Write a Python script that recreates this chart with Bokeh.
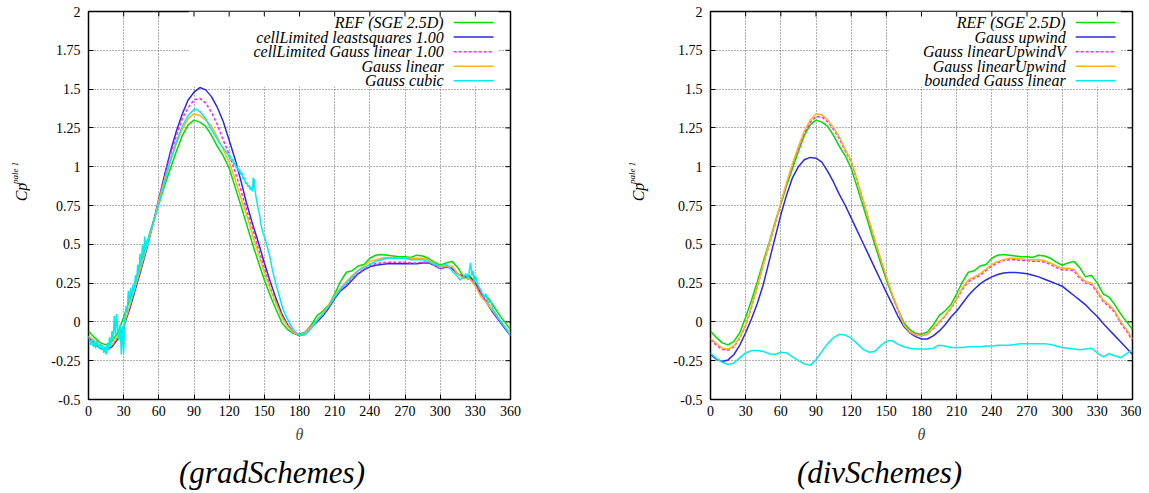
import math
from bokeh.plotting import figure
from bokeh.layouts import row, column
from bokeh.models import Label, BoxAnnotation, FixedTicker, Range1d
from bokeh.embed import file_html
from bokeh.resources import INLINE

# ---------------- data ----------------
THETA = list(range(0, 365, 5))
X_TICKS = [0, 30, 60, 90, 120, 150, 180, 210, 240, 270, 300, 330, 360]
Y_TICKS = [-0.5, -0.25, 0, 0.25, 0.5, 0.75, 1, 1.25, 1.5, 1.75, 2]
Y_TICK_LABELS = ["-0.5", "-0.25", "0", "0.25", "0.5", "0.75", "1", "1.25", "1.5", "1.75", "2"]

REF_SGE = [-0.06, -0.10, -0.135, -0.148, -0.125, -0.07, 0.03, 0.14, 0.26, 0.39,
           0.51, 0.64, 0.76, 0.88, 0.99, 1.10, 1.20, 1.27, 1.30, 1.287,
           1.26, 1.20, 1.13, 1.07, 0.99, 0.87, 0.75, 0.625, 0.50, 0.385,
           0.27, 0.17, 0.08, -0.005, -0.05, -0.075, -0.08, -0.065, -0.02, 0.04,
           0.07, 0.11, 0.18, 0.26, 0.32, 0.33, 0.36, 0.37, 0.41, 0.43,
           0.435, 0.43, 0.425, 0.42, 0.42, 0.415, 0.43, 0.425, 0.41, 0.385,
           0.365, 0.38, 0.39, 0.35, 0.29, 0.30, 0.25, 0.18, 0.16, 0.11,
           0.05, 0.00, -0.05]

# gradSchemes panel
CL_LEASTSQUARES = [-0.10, -0.14, -0.17, -0.18, -0.16, -0.11, -0.03, 0.08, 0.21, 0.34,
                   0.48, 0.63, 0.79, 0.95, 1.10, 1.23, 1.34, 1.43, 1.48, 1.51,
                   1.495, 1.45, 1.38, 1.29, 1.17, 1.05, 0.91, 0.76, 0.63, 0.51,
                   0.38, 0.26, 0.15, 0.05, -0.02, -0.07, -0.09, -0.075, -0.035, 0.00,
                   0.04, 0.09, 0.15, 0.20, 0.23, 0.27, 0.31, 0.335, 0.355, 0.365,
                   0.37, 0.375, 0.375, 0.375, 0.375, 0.375, 0.375, 0.38, 0.38, 0.365,
                   0.345, 0.355, 0.345, 0.31, 0.29, 0.29, 0.25, 0.18, 0.12, 0.06,
                   0.01, -0.04, -0.09]

CL_GAUSS_LINEAR = [-0.095, -0.13, -0.16, -0.175, -0.155, -0.10, -0.025, 0.09, 0.22, 0.35,
                   0.49, 0.63, 0.79, 0.94, 1.08, 1.20, 1.31, 1.38, 1.43, 1.44,
                   1.41, 1.35, 1.27, 1.17, 1.08, 0.97, 0.85, 0.72, 0.60, 0.47,
                   0.35, 0.22, 0.13, 0.04, -0.02, -0.065, -0.085, -0.07, -0.03, 0.01,
                   0.05, 0.10, 0.16, 0.21, 0.24, 0.28, 0.315, 0.34, 0.36, 0.375,
                   0.38, 0.385, 0.385, 0.385, 0.385, 0.38, 0.38, 0.385, 0.385, 0.365,
                   0.34, 0.35, 0.35, 0.31, 0.29, 0.29, 0.24, 0.18, 0.13, 0.07,
                   0.02, -0.03, -0.08]

GAUSS_LINEAR = [-0.09, -0.12, -0.155, -0.17, -0.15, -0.09, -0.02, 0.10, 0.23, 0.36,
                0.49, 0.63, 0.78, 0.92, 1.04, 1.15, 1.24, 1.31, 1.34, 1.33,
                1.30, 1.26, 1.19, 1.11, 1.03, 0.92, 0.80, 0.69, 0.56, 0.44,
                0.32, 0.21, 0.12, 0.03, -0.03, -0.07, -0.085, -0.07, -0.03, 0.01,
                0.06, 0.11, 0.17, 0.22, 0.26, 0.30, 0.33, 0.36, 0.39, 0.40,
                0.41, 0.415, 0.415, 0.41, 0.41, 0.41, 0.41, 0.41, 0.40, 0.375,
                0.35, 0.36, 0.36, 0.31, 0.28, 0.28, 0.23, 0.16, 0.12, 0.07,
                0.02, -0.03, -0.07]

CUBIC_THETA = [0, 1, 2, 3, 4, 5, 6, 7, 8, 9, 10, 11, 12, 13, 14, 15, 16, 17, 18, 19,
               20, 21, 22, 23, 24, 25, 26, 27, 28, 29, 30, 31, 32, 33, 34, 35, 36, 37, 38, 39,
               40, 41, 42, 43, 44, 45, 46, 47, 48, 49, 50, 51, 52, 54, 57, 60, 65, 70, 75, 80,
               85, 90, 92, 95, 100, 104, 108, 112, 116, 119, 120, 121, 122, 123, 124, 125, 126, 127, 128, 129,
               130, 131, 132, 133, 134, 135, 136, 137, 138, 139, 140, 140.5, 141, 141.5, 142, 143, 144, 145, 146, 147,
               148, 149, 150, 152, 155, 157, 160, 163, 166, 169, 171, 174, 177, 180, 184, 188, 192, 196, 200, 205,
               210, 215, 220, 225, 230, 235, 240, 245, 250, 255, 260, 265, 270, 275, 280, 285, 290, 295, 300, 305,
               308, 311, 314, 317, 320, 322, 324, 325, 326, 327, 328, 329, 330, 332, 335, 337, 339, 341, 343, 345,
               347, 350, 355, 360]
GAUSS_CUBIC = [-0.09, -0.12, -0.15, -0.11, -0.16, -0.13, -0.17, -0.12, -0.15, -0.17, -0.14, -0.18, -0.15, -0.20, -0.16, -0.21, -0.14, -0.18, -0.10, -0.16,
               -0.06, -0.12, 0.04, -0.08, 0.05, -0.05, -0.12, -0.02, -0.21, -0.03, -0.20, 0.02, 0.10, 0.06, 0.20, 0.12, 0.22, 0.16, 0.24, 0.20,
               0.30, 0.26, 0.37, 0.31, 0.44, 0.36, 0.50, 0.41, 0.55, 0.46, 0.53, 0.50, 0.57, 0.61, 0.68, 0.76, 0.90, 1.04, 1.16, 1.26,
               1.33, 1.37, 1.37, 1.355, 1.31, 1.25, 1.20, 1.15, 1.11, 1.08, 1.06, 1.07, 1.04, 1.05, 1.01, 1.03, 0.99, 1.00, 0.97, 0.98,
               0.95, 0.96, 0.92, 0.93, 0.89, 0.90, 0.87, 0.88, 0.85, 0.87, 0.84, 0.93, 0.86, 0.92, 0.85, 0.80, 0.76, 0.72, 0.69, 0.63,
               0.60, 0.57, 0.55, 0.50, 0.41, 0.33, 0.24, 0.16, 0.08, 0.03, 0.00, -0.04, -0.07, -0.085, -0.085, -0.06, -0.02, 0.02, 0.05, 0.10,
               0.16, 0.21, 0.25, 0.29, 0.33, 0.35, 0.37, 0.39, 0.40, 0.41, 0.41, 0.41, 0.41, 0.40, 0.40, 0.40, 0.39, 0.37, 0.36, 0.37,
               0.35, 0.32, 0.30, 0.27, 0.29, 0.31, 0.27, 0.34, 0.38, 0.30, 0.33, 0.25, 0.30, 0.24, 0.20, 0.16, 0.18, 0.12, 0.14, 0.08,
               0.06, 0.02, -0.03, -0.09]

# divSchemes panel
GAUSS_UPWIND = [-0.21, -0.24, -0.255, -0.245, -0.21, -0.15, -0.07, 0.02, 0.12, 0.24,
                0.39, 0.54, 0.69, 0.82, 0.93, 1.00, 1.045, 1.06, 1.055, 1.03,
                0.97, 0.90, 0.82, 0.75, 0.67, 0.59, 0.51, 0.43, 0.35, 0.27,
                0.19, 0.115, 0.035, -0.03, -0.07, -0.095, -0.11, -0.11, -0.09, -0.06,
                -0.02, 0.03, 0.07, 0.12, 0.17, 0.21, 0.245, 0.27, 0.29, 0.305,
                0.315, 0.318, 0.318, 0.315, 0.31, 0.30, 0.29, 0.275, 0.26, 0.245,
                0.23, 0.20, 0.17, 0.14, 0.11, 0.07, 0.035, -0.01, -0.05, -0.09,
                -0.13, -0.17, -0.21]

GAUSS_LINEAR_UPWIND_V = [-0.115, -0.15, -0.178, -0.182, -0.16, -0.105, -0.025, 0.095, 0.225, 0.365,
                         0.495, 0.625, 0.765, 0.89, 1.01, 1.12, 1.215, 1.285, 1.322, 1.32,
                         1.29, 1.24, 1.18, 1.10, 1.03, 0.91, 0.785, 0.655, 0.53, 0.405,
                         0.285, 0.175, 0.075, -0.02, -0.065, -0.085, -0.09, -0.08, -0.045, -0.005,
                         0.035, 0.085, 0.145, 0.21, 0.26, 0.28, 0.30, 0.33, 0.36, 0.38,
                         0.395, 0.40, 0.40, 0.395, 0.395, 0.39, 0.39, 0.385, 0.37, 0.35,
                         0.335, 0.335, 0.33, 0.28, 0.25, 0.24, 0.19, 0.13, 0.10, 0.06,
                         -0.01, -0.06, -0.12]

GAUSS_LINEAR_UPWIND = [-0.105, -0.14, -0.17, -0.175, -0.155, -0.10, -0.02, 0.10, 0.23, 0.37,
                       0.50, 0.63, 0.77, 0.90, 1.02, 1.13, 1.23, 1.30, 1.34, 1.335,
                       1.30, 1.25, 1.19, 1.11, 1.04, 0.92, 0.79, 0.66, 0.535, 0.41,
                       0.29, 0.18, 0.08, -0.02, -0.065, -0.085, -0.09, -0.08, -0.04, 0.00,
                       0.04, 0.09, 0.15, 0.22, 0.27, 0.29, 0.31, 0.34, 0.37, 0.39,
                       0.40, 0.41, 0.41, 0.405, 0.40, 0.40, 0.40, 0.395, 0.38, 0.36,
                       0.345, 0.345, 0.34, 0.29, 0.26, 0.25, 0.20, 0.14, 0.11, 0.07,
                       0.00, -0.05, -0.11]

BOUNDED_GAUSS_LINEAR = [-0.20, -0.235, -0.26, -0.275, -0.265, -0.23, -0.20, -0.185, -0.185, -0.19,
                        -0.205, -0.21, -0.195, -0.20, -0.225, -0.25, -0.27, -0.28, -0.245, -0.19,
                        -0.14, -0.10, -0.08, -0.085, -0.105, -0.14, -0.175, -0.195, -0.19, -0.155,
                        -0.125, -0.12, -0.145, -0.16, -0.17, -0.175, -0.175, -0.175, -0.17, -0.15,
                        -0.155, -0.165, -0.165, -0.165, -0.16, -0.16, -0.16, -0.155, -0.155, -0.15,
                        -0.15, -0.15, -0.145, -0.14, -0.14, -0.14, -0.14, -0.14, -0.145, -0.155,
                        -0.165, -0.17, -0.175, -0.18, -0.175, -0.17, -0.20, -0.225, -0.205, -0.22,
                        -0.23, -0.205, -0.18]

GRAD_NAMES = ["REF (SGE 2.5D)", "cellLimited leastsquares 1.00",
              "cellLimited Gauss linear 1.00", "Gauss linear", "Gauss cubic"]
DIV_NAMES = ["REF (SGE 2.5D)", "Gauss upwind", "Gauss linearUpwindV",
             "Gauss linearUpwind", "bounded Gauss linear"]
CAPTIONS = ["(gradSchemes)", "(divSchemes)"]
Y_LABEL = "Cp"
Y_LABEL_SUP = "pale 1"
X_LABEL = "θ"

# ---------------- styles / layout ----------------
GREEN, BLUE, MAGENTA, ORANGE, CYAN = "#00dd00", "#2a2ae6", "#ff22ff", "#ffb414", "#00eded"
STYLES = [(GREEN, "solid"), (BLUE, "solid"), (MAGENTA, "3 2"), (ORANGE, "solid"), (CYAN, "solid")]
SERIF = "Liberation Serif"
FRAME_W, FRAME_H = 422, 388
TOP, BOTTOM = 11, 52
ROW_H = TOP + FRAME_H + BOTTOM
PX2DEG = 360.0 / FRAME_W
PX2VAL = 2.5 / FRAME_H
TICK = 5


def text_fig(w, h):
    f = figure(width=w, height=h, x_range=Range1d(0, w), y_range=Range1d(0, h),
               x_axis_location=None, y_axis_location=None, min_border=0,
               output_backend="svg", toolbar_location=None)
    f.outline_line_color = None
    f.grid.visible = False
    f.background_fill_color = "white"
    f.border_fill_color = "white"
    return f


def ylabel_fig(w, cp_x, sup_x):
    f = text_fig(w, ROW_H)
    f.add_layout(Label(x=cp_x, y=ROW_H - 220.7, text=Y_LABEL, angle=math.pi / 2, text_align="left",
                       text_baseline="middle", text_font=SERIF, text_font_style="italic",
                       text_font_size="16px", text_color="black"))
    f.add_layout(Label(x=sup_x, y=ROW_H - 200.5, text=Y_LABEL_SUP, angle=math.pi / 2, text_align="left",
                       text_baseline="middle", text_font=SERIF, text_font_style="italic",
                       text_font_size="9px", text_color="black"))
    return f


def caption_fig(w, h, cx, cy, text):
    f = text_fig(w, h)
    f.add_layout(Label(x=cx, y=h - cy, text=text, text_align="center", text_baseline="middle",
                       text_font=SERIF, text_font_style="italic", text_font_size="31px",
                       text_color="black"))
    return f


def make_panel(bl, br, curves, names, box_left):
    p = figure(width=bl + FRAME_W + br, height=ROW_H, x_range=Range1d(0, 360), y_range=Range1d(-0.5, 2),
               min_border_left=bl, min_border_right=br, min_border_top=TOP, min_border_bottom=BOTTOM,
               output_backend="svg", toolbar_location=None)
    p.background_fill_color = "white"
    p.border_fill_color = "white"
    p.outline_line_color = "black"
    p.outline_line_width = 1.5

    xa = p.xaxis[0]
    ya = p.yaxis[0]
    xa.ticker = FixedTicker(ticks=X_TICKS)
    ya.ticker = FixedTicker(ticks=Y_TICKS)
    ya.major_label_overrides = {t: s for t, s in zip(Y_TICKS, Y_TICK_LABELS)}
    for ax in (xa, ya):
        ax.axis_line_color = None
        ax.major_tick_in = TICK
        ax.major_tick_out = 0
        ax.minor_tick_line_color = None
        ax.major_tick_line_color = "black"
        ax.major_label_text_font = SERIF
        ax.major_label_text_font_size = "14px"
        ax.major_label_text_color = "black"
    xa.major_label_standoff = 6
    ya.major_label_standoff = 8
    xa.axis_label = X_LABEL
    xa.axis_label_text_font = SERIF
    xa.axis_label_text_font_style = "italic"
    xa.axis_label_text_font_size = "16px"
    xa.axis_label_standoff = 7

    for g, ticks in ((p.xgrid[0], X_TICKS), (p.ygrid[0], Y_TICKS)):
        g.ticker = FixedTicker(ticks=ticks)
        g.grid_line_color = "#606060"
        g.grid_line_dash = "1 2"
        g.grid_line_width = 1

    # key background (covers the grid, like gnuplot's opaque key)
    p.add_layout(BoxAnnotation(left=box_left, right=350, bottom=1.515, top=2,
                               fill_color="white", fill_alpha=1.0, line_color=None,
                               level="underlay"))

    # mirrored inward ticks on the top and right borders
    inner_x = X_TICKS[1:-1]
    p.segment(x0=inner_x, y0=[2] * len(inner_x), x1=inner_x, y1=[2 - TICK * PX2VAL] * len(inner_x),
              line_color="black", line_width=1)
    inner_y = Y_TICKS[1:-1]
    p.segment(x0=[360] * len(inner_y), y0=inner_y, x1=[360 - TICK * PX2DEG] * len(inner_y), y1=inner_y,
              line_color="black", line_width=1)

    for (xs, ys), (c, d) in zip(curves, STYLES):
        p.line(xs, ys, line_color=c, line_width=1.5, line_dash=d)

    for i, (name, (c, d)) in enumerate(zip(names, STYLES)):
        yy = 1.929 - 0.094 * i
        p.add_layout(Label(x=303, y=yy, text=name, text_align="right", text_baseline="middle",
                           text_font=SERIF, text_font_style="italic", text_font_size="16px",
                           text_color="black"))
        p.segment(x0=[311.5], y0=[yy], x1=[345.5], y1=[yy], line_color=c, line_width=1.5, line_dash=d)
    return p


grad_curves = [(THETA, REF_SGE), (THETA, CL_LEASTSQUARES), (THETA, CL_GAUSS_LINEAR),
               (THETA, GAUSS_LINEAR), (CUBIC_THETA, GAUSS_CUBIC)]
div_curves = [(THETA, REF_SGE), (THETA, GAUSS_UPWIND), (THETA, GAUSS_LINEAR_UPWIND_V),
              (THETA, GAUSS_LINEAR_UPWIND), (THETA, BOUNDED_GAUSS_LINEAR)]

# page columns: [ylabel 0-30][panel 30-582][ylabel 582-652][panel 652-1141]
yl1 = ylabel_fig(30, 21, 14.5)
p1 = make_panel(58, 72, grad_curves, GRAD_NAMES, 85.5)
yl2 = ylabel_fig(70, 638 - 582, 631.5 - 582)
p2 = make_panel(58, 9, div_curves, DIV_NAMES, 152)

CAP_H = 40
cap1 = caption_fig(582, CAP_H, 271.5, 472 - ROW_H, CAPTIONS[0])
cap2 = caption_fig(559, CAP_H, 879 - 582, 472 - ROW_H, CAPTIONS[1])

layout = column(row(yl1, p1, yl2, p2), row(cap1, cap2))
open("out.html", "w").write(file_html(layout, INLINE))
